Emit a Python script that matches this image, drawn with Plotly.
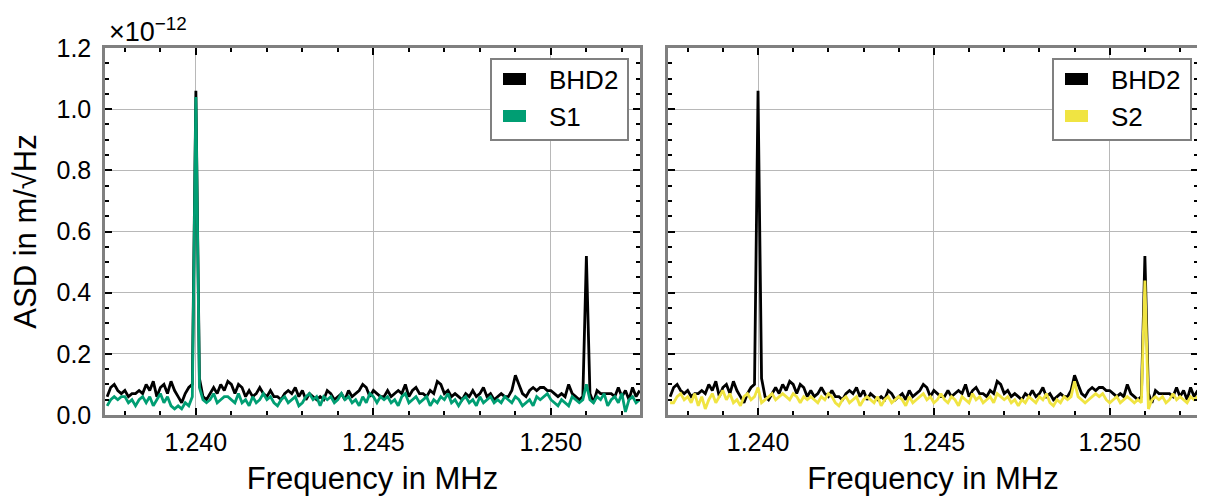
import numpy as np
import plotly.graph_objects as go

# Frequency grid in MHz (100 Hz spacing)
freq_mhz = np.round(np.arange(1.2375, 1.25251, 0.0001), 4)

# ASD values in units of 1e-12 m/sqrt(Hz)
bhd2 = [
    0.06, 0.09, 0.10, 0.08, 0.07, 0.08, 0.06, 0.07, 0.07, 0.08,
    0.07, 0.10, 0.08, 0.11, 0.06, 0.09, 0.10, 0.07, 0.11, 0.08,
    0.06, 0.04, 0.07, 0.09, 0.10, 1.06, 0.12, 0.06, 0.05, 0.07,
    0.09, 0.07, 0.10, 0.08, 0.11, 0.10, 0.07, 0.10, 0.09, 0.06,
    0.08, 0.06, 0.07, 0.09, 0.07, 0.06, 0.08, 0.06, 0.06, 0.05,
    0.07, 0.08, 0.07, 0.09, 0.06, 0.08, 0.05, 0.07, 0.06, 0.05,
    0.06, 0.05, 0.08, 0.07, 0.05, 0.06, 0.07, 0.05, 0.08, 0.06,
    0.07, 0.08, 0.10, 0.09, 0.06, 0.08, 0.07, 0.06, 0.06, 0.08,
    0.06, 0.07, 0.08, 0.07, 0.10, 0.06, 0.08, 0.09, 0.07, 0.07,
    0.06, 0.08, 0.07, 0.11, 0.10, 0.07, 0.08, 0.06, 0.07, 0.06,
    0.05, 0.07, 0.06, 0.08, 0.06, 0.07, 0.09, 0.06, 0.07, 0.05,
    0.06, 0.07, 0.06, 0.06, 0.08, 0.13, 0.10, 0.07, 0.06, 0.08,
    0.09, 0.08, 0.09, 0.09, 0.08, 0.08, 0.07, 0.06, 0.07, 0.06,
    0.10, 0.07, 0.06, 0.05, 0.06, 0.52, 0.07, 0.04, 0.08, 0.07,
    0.07, 0.07, 0.07, 0.06, 0.09, 0.06, 0.08, 0.05, 0.09, 0.06, 0.08,
]
s1 = [
    0.03, 0.05, 0.06, 0.05, 0.06, 0.06, 0.04, 0.05, 0.03, 0.05,
    0.06, 0.04, 0.06, 0.03, 0.05, 0.07, 0.04, 0.06, 0.03, 0.02,
    0.03, 0.02, 0.04, 0.03, 0.06, 1.04, 0.09, 0.05, 0.04, 0.05,
    0.07, 0.04, 0.05, 0.06, 0.06, 0.05, 0.04, 0.07, 0.04, 0.05,
    0.03, 0.06, 0.04, 0.05, 0.07, 0.05, 0.06, 0.04, 0.03, 0.05,
    0.06, 0.04, 0.05, 0.06, 0.03, 0.04, 0.06, 0.07, 0.05, 0.06,
    0.03, 0.06, 0.05, 0.06, 0.04, 0.05, 0.07, 0.05, 0.06, 0.04,
    0.05, 0.03, 0.06, 0.04, 0.07, 0.06, 0.04, 0.06, 0.05, 0.06,
    0.04, 0.05, 0.03, 0.06, 0.07, 0.04, 0.05, 0.06, 0.04, 0.05,
    0.06, 0.03, 0.05, 0.04, 0.06, 0.05, 0.07, 0.04, 0.05, 0.03,
    0.05, 0.06, 0.04, 0.05, 0.03, 0.06, 0.04, 0.05, 0.06, 0.04,
    0.05, 0.04, 0.06, 0.05, 0.04, 0.06, 0.05, 0.03, 0.04, 0.05,
    0.03, 0.06, 0.05, 0.06, 0.07, 0.05, 0.04, 0.03, 0.05, 0.04,
    0.03, 0.06, 0.05, 0.04, 0.05, 0.10, 0.05, 0.04, 0.06, 0.05,
    0.07, 0.03, 0.05, 0.06, 0.04, 0.07, 0.01, 0.05, 0.06, 0.04, 0.05,
]
s2 = [
    0.04, 0.04, 0.06, 0.07, 0.05, 0.06, 0.04, 0.07, 0.03, 0.06,
    0.02, 0.05, 0.07, 0.04, 0.06, 0.08, 0.05, 0.07, 0.04, 0.05,
    0.03, 0.06, 0.07, 0.05, 0.06, 0.09, 0.04, 0.05, 0.06, 0.07,
    0.05, 0.06, 0.07, 0.06, 0.05, 0.07, 0.06, 0.04, 0.06, 0.05,
    0.06, 0.05, 0.04, 0.06, 0.05, 0.07, 0.06, 0.04, 0.03, 0.05,
    0.06, 0.04, 0.05, 0.06, 0.03, 0.05, 0.06, 0.05, 0.04, 0.06,
    0.03, 0.05, 0.06, 0.04, 0.05, 0.06, 0.05, 0.03, 0.06, 0.04,
    0.05, 0.06, 0.07, 0.05, 0.06, 0.04, 0.05, 0.07, 0.05, 0.04,
    0.06, 0.05, 0.03, 0.06, 0.05, 0.04, 0.07, 0.05, 0.06, 0.04,
    0.05, 0.06, 0.04, 0.07, 0.06, 0.05, 0.06, 0.04, 0.05, 0.03,
    0.05, 0.04, 0.06, 0.05, 0.04, 0.06, 0.05, 0.07, 0.04, 0.03,
    0.05, 0.04, 0.06, 0.05, 0.06, 0.11, 0.06, 0.05, 0.04, 0.05,
    0.06, 0.07, 0.06, 0.07, 0.05, 0.04, 0.05, 0.06, 0.04, 0.05,
    0.06, 0.05, 0.04, 0.05, 0.04, 0.44, 0.02, 0.05, 0.06, 0.05,
    0.06, 0.04, 0.05, 0.07, 0.05, 0.06, 0.05, 0.04, 0.06, 0.05, 0.06,
]

x_ticks = [1.240, 1.245, 1.250]
x_tick_labels = ["1.240", "1.245", "1.250"]
y_ticks = [0.0, 0.2, 0.4, 0.6, 0.8, 1.0, 1.2]
y_tick_labels = ["0.0", "0.2", "0.4", "0.6", "0.8", "1.0", "1.2"]

BLACK = "#000000"
GREEN = "#009E73"
YELLOW = "#F0E442"
FRAME = "#808080"
GRID = "#b8b8b8"
FONT = "Liberation Sans, Arial, sans-serif"

# The page body adds an 8 px offset; the figure is sized so it fills the window.
OFF = 8
W, H = 1205 - OFF, 496 - OFF


def fx(p):
    return (p - OFF) / W


def fy(p):
    return 1 - (p - OFF) / H


fig = go.Figure()

panels = [
    ("x", "y", [("BHD2", bhd2, BLACK), ("S1", s1, GREEN)], (491, 628, 503)),
    ("x2", "y2", [("BHD2", bhd2, BLACK), ("S2", s2, YELLOW)], (1053, 1191, 1065)),
]
shapes, annotations = [], []
for xa, ya, series, (bx0, bx1, ix0) in panels:
    for name, vals, col in series:
        fig.add_trace(go.Scatter(x=freq_mhz, y=vals, mode="lines", name=name,
                                 line=dict(color=col, width=2.8), xaxis=xa, yaxis=ya,
                                 showlegend=False))
    # legend box
    shapes.append(dict(type="rect", xref="paper", yref="paper",
                       x0=fx(bx0), x1=fx(bx1), y0=fy(140), y1=fy(59),
                       line=dict(color=FRAME, width=2), fillcolor="white", layer="above"))
    for k, (name, vals, col) in enumerate(series):
        yc = 79 + 37 * k
        shapes.append(dict(type="rect", xref="paper", yref="paper",
                           x0=fx(ix0), x1=fx(ix0 + 23), y0=fy(yc + 6), y1=fy(yc - 6),
                           line=dict(width=0), fillcolor=col, layer="above"))
        annotations.append(dict(text=name, xref="paper", yref="paper",
                                x=fx(ix0 + 44), y=fy(yc + 1), xanchor="left", yanchor="middle",
                                showarrow=False,
                                font=dict(size=26, color=BLACK, family=FONT)))

dom1 = [fx(105), fx(640)]
dom2 = [fx(668), fx(1198)]
ydom = [fy(415), fy(48)]

xcommon = dict(range=[1.23744, 1.25251], tickvals=x_ticks, ticktext=x_tick_labels,
               ticks="inside", ticklen=7, tickwidth=2, tickcolor=BLACK,
               minor=dict(dtick=0.001, tick0=1.24, ticks="inside", ticklen=4,
                          tickwidth=1.5, tickcolor=BLACK, showgrid=False),
               showline=True, linecolor=FRAME, linewidth=2.5, mirror="allticks",
               showgrid=True, gridcolor=GRID, gridwidth=1, zeroline=False,
               tickfont=dict(size=25, color=BLACK, family=FONT),
               ticklabelstandoff=3,
               automargin=False,
               title=dict(text="Frequency in MHz", font=dict(size=31, color=BLACK, family=FONT),
                          standoff=14))
ycommon = dict(range=[0, 1.2], tickvals=y_ticks, ticktext=y_tick_labels,
               ticks="inside", ticklen=7, tickwidth=2, tickcolor=BLACK,
               minor=dict(dtick=0.05, tick0=0, ticks="inside", ticklen=4,
                          tickwidth=1.5, tickcolor=BLACK, showgrid=False),
               showline=True, linecolor=FRAME, linewidth=2.5, mirror="allticks",
               showgrid=True, gridcolor=GRID, gridwidth=1, zeroline=False,
               tickfont=dict(size=25, color=BLACK, family=FONT),
               automargin=False,
               domain=ydom)

annotations.append(dict(text="×10<sup>−12</sup>", xref="paper", yref="paper",
                        x=fx(107), y=fy(49), xanchor="left", yanchor="bottom",
                        showarrow=False, font=dict(size=27, color=BLACK, family=FONT)))

fig.update_layout(
    width=W, height=H,
    margin=dict(l=0, r=0, t=0, b=0, autoexpand=False),
    paper_bgcolor="white", plot_bgcolor="white",
    font=dict(family=FONT, color=BLACK),
    showlegend=False,
    xaxis=dict(xcommon, domain=dom1, anchor="y"),
    xaxis2=dict(xcommon, domain=dom2, anchor="y2"),
    yaxis=dict(ycommon, anchor="x", ticklabelstandoff=6,
               title=dict(text="ASD in m/√Hz", font=dict(size=31, color=BLACK, family=FONT),
                          standoff=13)),
    yaxis2=dict(ycommon, anchor="x2", showticklabels=False),
    shapes=shapes,
    annotations=annotations,
)

fig.write_html("out.html")
